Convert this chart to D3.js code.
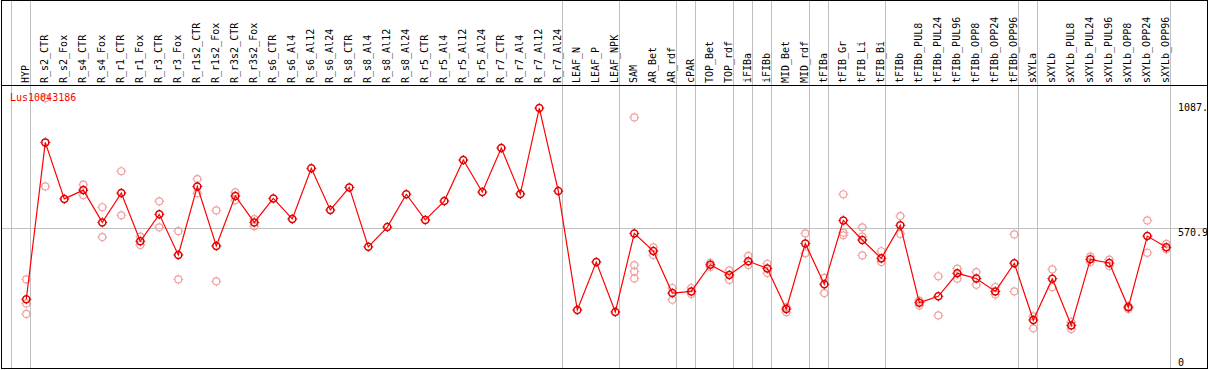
<!DOCTYPE html>
<meta charset="utf-8">
<style>
    body { margin: 0; background: #fff; }
    .lab { font: 10px "DejaVu Sans Mono", monospace; fill: #000; }
    .sep, .grid { stroke: #c0c0c0; stroke-width: 1px; shape-rendering: crispEdges; }
    .frame { fill: none; stroke: #000; stroke-width: 1px; shape-rendering: crispEdges; }
    .mainline { fill: none; stroke: #ff0000; stroke-width: 1.2px; }
</style>
<svg id="svg" width="1209" height="370"></svg>
<script src="https://d3js.org/d3.v7.min.js"></script>
<script>

var categories = ["HYP","R_s2_CTR","R_s2_Fox","R_s4_CTR","R_s4_Fox","R_r1_CTR","R_r1_Fox","R_r3_CTR","R_r3_Fox",
    "R_r1s2_CTR","R_r1s2_Fox","R_r3s2_CTR","R_r3s2_Fox","R_s6_CTR","R_s6_Al4","R_s6_Al12","R_s6_Al24",
    "R_s8_CTR","R_s8_Al4","R_s8_Al12","R_s8_Al24","R_r5_CTR","R_r5_Al4","R_r5_Al12","R_r5_Al24",
    "R_r7_CTR","R_r7_Al4","R_r7_Al12","R_r7_Al24","LEAF_N","LEAF_P","LEAF_NPK","SAM","AR_Bet","AR_rdf",
    "cPAR","TOP_Bet","TOP_rdf","iFIBa","iFIBb","MID_Bet","MID_rdf","tFIBa","tFIB_Gr","tFIB_Li","tFIB_Bi",
    "tFIBb","tFIBb_PUL8","tFIBb_PUL24","tFIBb_PUL96","tFIBb_OPP8","tFIBb_OPP24","tFIBb_OPP96",
    "sXYLa","sXYLb","sXYLb_PUL8","sXYLb_PUL24","sXYLb_PUL96","sXYLb_OPP8","sXYLb_OPP24","sXYLb_OPP96"];

// mean expression per sample
var means = [281, 922, 691, 727, 595, 715, 518, 628, 462, 742, 499, 703, 595, 693, 609, 816, 646,
    738, 495, 576, 710, 605, 682, 850, 719, 899, 711, 1062, 723, 237, 433, 229, 550, 478, 306,
    313, 422, 380, 436, 407, 241, 509, 342, 603, 523, 448, 583, 267, 293, 387, 366, 313, 428,
    196, 365, 174, 444, 429, 248, 539, 493];

// replicate values
var replicates = [[362, 264, 221], [1102, 742], [], [749, 706], [657, 535], [804, 624], [537, 503],
    [681, 575], [559, 362], [772, 714], [644, 354], [718, 686], [608, 579], [], [], [], [],
    [], [], [], [], [], [], [], [], [], [], [], [], [], [], [],
    [1024, 420, 394, 366], [493, 462], [327, 279], [327, 302], [430, 413], [399, 360], [458, 421],
    [426, 388], [249, 228], [550, 469], [368, 306], [710, 553, 542], [575, 537, 460], [477, 433],
    [621, 548], [255, 275], [375, 215], [406, 365], [392, 340], [331, 300], [546, 313],
    [211, 162], [403, 330], [188, 159], [455, 433], [443, 417], [253, 241], [603, 471], [507, 485]];

// last sample of each group (separator drawn after it)
var groupEnds = ["HYP","R_r7_Al24","LEAF_NPK","AR_rdf","cPAR","TOP_rdf","iFIBa","iFIBb","MID_rdf",
    "tFIBa","tFIB_Bi","tFIBb_OPP96","sXYLa","sXYLb_OPP96"];

var yTicks = [1087, 570.9, 0];
var yTickLabels = ["1087.", "570.9", "0"];
var geneName = "Lus10043186";

var svg = d3.select("svg"),
    width = +svg.attr("width"),
    height = +svg.attr("height");

var x = d3.scalePoint().domain(categories).range([26.3, 1166.3]);
var y = d3.scaleLinear().domain([0, 1087]).range([368, 102]);

// group separators
var sepX = [x(categories[0]) - 15].concat(groupEnds.map(function(c) { return x(c) + 4; }));
svg.selectAll(".sep").data(sepX).enter().append("line")
    .attr("class", "sep")
    .attr("x1", function(d) { return Math.round(d) + 0.5; })
    .attr("x2", function(d) { return Math.round(d) + 0.5; })
    .attr("y1", 0).attr("y2", 368);

// mid grid line
svg.append("line").attr("class", "grid")
    .attr("x1", 1).attr("x2", 1208)
    .attr("y1", Math.round(y(570.9)) + 0.5).attr("y2", Math.round(y(570.9)) + 0.5);

// frame
svg.append("rect").attr("class", "frame").attr("x", 1.5).attr("y", 0.5).attr("width", 1206).attr("height", 367.5);
svg.append("line").attr("class", "frame").attr("x1", 1).attr("x2", 1208).attr("y1", 85.5).attr("y2", 85.5);

// column labels
svg.selectAll(".collab").data(categories).enter().append("text")
    .attr("class", "lab")
    .attr("transform", function(d) { return "translate(" + (x(d) + 3) + ",83) rotate(-90)"; })
    .text(function(d) { return d; });

// right axis labels
var labOff = [9, 8, -2];
svg.selectAll(".ylab").data(yTicks).enter().append("text")
    .attr("class", "lab")
    .attr("x", 1178)
    .attr("y", function(d, i) { return y(d) + labOff[i]; })
    .text(function(d, i) { return yTickLabels[i]; });

function marker(g, cx, cy, color, w) {
    var r = 3.5;
    g.append("circle").attr("cx", cx).attr("cy", cy).attr("r", r)
        .attr("fill", "none").attr("stroke", color).attr("stroke-width", w);
    [[0, -1], [0, 1], [-1, 0], [1, 0]].forEach(function(t) {
        g.append("line")
            .attr("x1", cx + t[0] * r).attr("y1", cy + t[1] * r)
            .attr("x2", cx + t[0] * (r + 1.5)).attr("y2", cy + t[1] * (r + 1.5))
            .attr("stroke", color).attr("stroke-width", 1);
    });
}

// replicates
var repG = svg.append("g");
replicates.forEach(function(vals, i) {
    vals.forEach(function(v) { marker(repG, x(categories[i]), y(v), "#f0a0a0", 1.2); });
});

// mean line
var line = d3.line()
    .x(function(d, i) { return x(categories[i]); })
    .y(function(d) { return y(d); });
svg.append("path").datum(means).attr("class", "mainline").attr("d", line);

var mainG = svg.append("g");
means.forEach(function(v, i) { marker(mainG, x(categories[i]), y(v), "#e00000", 1.5); });

svg.append("text").attr("class", "lab").attr("x", 10).attr("y", 101)
    .style("fill", "#ff0000").text(geneName);

</script>
